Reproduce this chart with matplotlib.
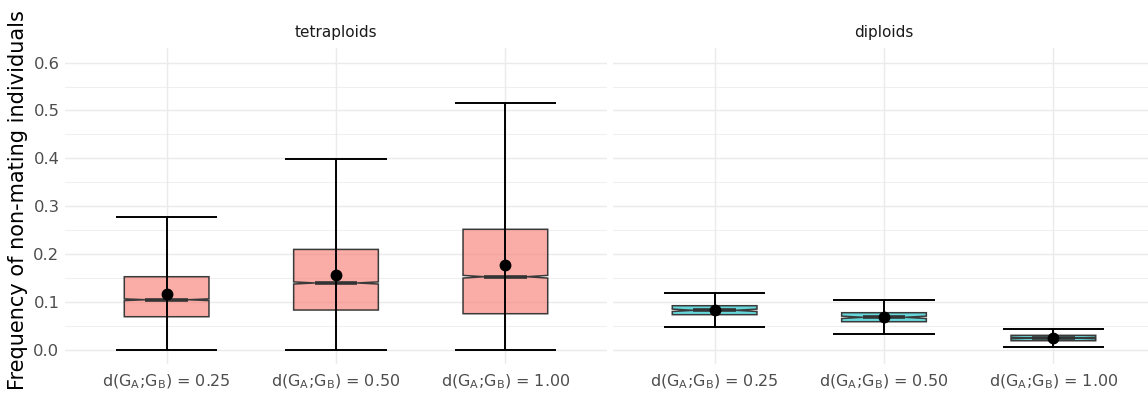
import matplotlib
matplotlib.use("Agg")
import matplotlib.pyplot as plt
from matplotlib.ticker import MultipleLocator

# ---- data -------------------------------------------------------------
categories = [r"d($\mathregular{G_A}$;$\mathregular{G_B}$) = 0.25",
              r"d($\mathregular{G_A}$;$\mathregular{G_B}$) = 0.50",
              r"d($\mathregular{G_A}$;$\mathregular{G_B}$) = 1.00"]
panels = ["tetraploids", "diploids"]

# tetraploids
tetra_min = [0.0, 0.0, 0.0]
tetra_q1 = [0.0695, 0.0835, 0.0758]
tetra_med = [0.105, 0.140, 0.153]
tetra_q3 = [0.153, 0.210, 0.252]
tetra_max = [0.278, 0.399, 0.516]
tetra_mean = [0.117, 0.156, 0.177]
tetra_notch = [0.0018, 0.0022, 0.0028]

# diploids
dip_min = [0.0486, 0.0334, 0.0069]
dip_q1 = [0.0738, 0.0591, 0.0194]
dip_med = [0.0829, 0.0683, 0.0250]
dip_q3 = [0.0925, 0.0779, 0.0307]
dip_max = [0.118, 0.1037, 0.0438]
dip_mean = [0.083, 0.068, 0.025]
dip_notch = [0.0025, 0.0025, 0.0015]

y_ticks = [0.0, 0.1, 0.2, 0.3, 0.4, 0.5, 0.6]

fills = {"tetraploids": "#F8766D", "diploids": "#00BFC4"}

series = {
    "tetraploids": (tetra_min, tetra_q1, tetra_med, tetra_q3, tetra_max,
                    tetra_mean, tetra_notch),
    "diploids": (dip_min, dip_q1, dip_med, dip_q3, dip_max,
                 dip_mean, dip_notch),
}

# ---- figure -----------------------------------------------------------
W, H = 1148, 403
fig = plt.figure(figsize=(W / 100, H / 100), dpi=100)

panel_w = 542 / W
bottom = (H - 364.4) / H
height = (364.4 - 48.2) / H
lefts = [65 / W, 613 / W]

grid_col = "#EBEBEB"

for i, name in enumerate(panels):
    ax = fig.add_axes([lefts[i], bottom, panel_w, height])
    lo, q1, med, q3, hi, mean, notch = series[name]
    pos = list(range(len(categories)))

    stats = []
    for k in range(len(categories)):
        stats.append(dict(med=med[k], q1=q1[k], q3=q3[k],
                          whislo=q1[k], whishi=q3[k],
                          cilo=med[k] - notch[k], cihi=med[k] + notch[k],
                          fliers=[], mean=mean[k]))

    bp = ax.bxp(stats, positions=pos, widths=0.5, shownotches=True,
                showcaps=False, showfliers=False, patch_artist=True,
                boxprops=dict(facecolor=fills[name], edgecolor="#3a3a3a",
                              linewidth=1.1),
                medianprops=dict(color="#333333", linewidth=2.6,
                                 solid_capstyle="butt"),
                whiskerprops=dict(linewidth=0),
                zorder=3)
    for patch in bp["boxes"]:
        patch.set_facecolor(matplotlib.colors.to_rgba(fills[name], 0.6))

    # range bars with caps
    ax.vlines(pos, lo, hi, color="black", linewidth=1.4, zorder=4)
    ax.hlines(lo, [p - 0.3 for p in pos], [p + 0.3 for p in pos],
              color="black", linewidth=1.4, zorder=4)
    ax.hlines(hi, [p - 0.3 for p in pos], [p + 0.3 for p in pos],
              color="black", linewidth=1.4, zorder=4)

    # means
    ax.plot(pos, mean, "o", color="black", markersize=7.5, zorder=5)

    ax.set_xlim(-0.6, len(categories) - 0.4)
    ax.set_ylim(-0.03, 0.63)
    ax.set_xticks(pos)
    ax.set_xticklabels(categories, fontsize=11.5, color="#4D4D4D")
    ax.set_yticks(y_ticks)
    ax.yaxis.set_minor_locator(MultipleLocator(0.05))
    if i == 0:
        ax.set_yticklabels([f"{v:.1f}" for v in y_ticks], fontsize=11.8,
                           color="#4D4D4D")
    else:
        ax.set_yticklabels([])
    ax.tick_params(axis="both", which="both", length=0)
    ax.tick_params(axis="x", pad=6)
    ax.tick_params(axis="y", pad=4)

    ax.set_axisbelow(True)
    ax.grid(True, which="major", color=grid_col, linewidth=1.05)
    ax.grid(True, which="minor", axis="y", color=grid_col, linewidth=0.55)
    for s in ax.spines.values():
        s.set_visible(False)

    ax.text(0.5, 1 + 16 / (364.4 - 48.2), name, transform=ax.transAxes,
            ha="center", va="center", fontsize=11, color="#1A1A1A")

fig.text(18 / W, (H - 200) / H, "Frequency of non-mating individuals",
         rotation=90, ha="center", va="center", fontsize=15, color="black")

fig.savefig("out.png", dpi=100, facecolor="white")
